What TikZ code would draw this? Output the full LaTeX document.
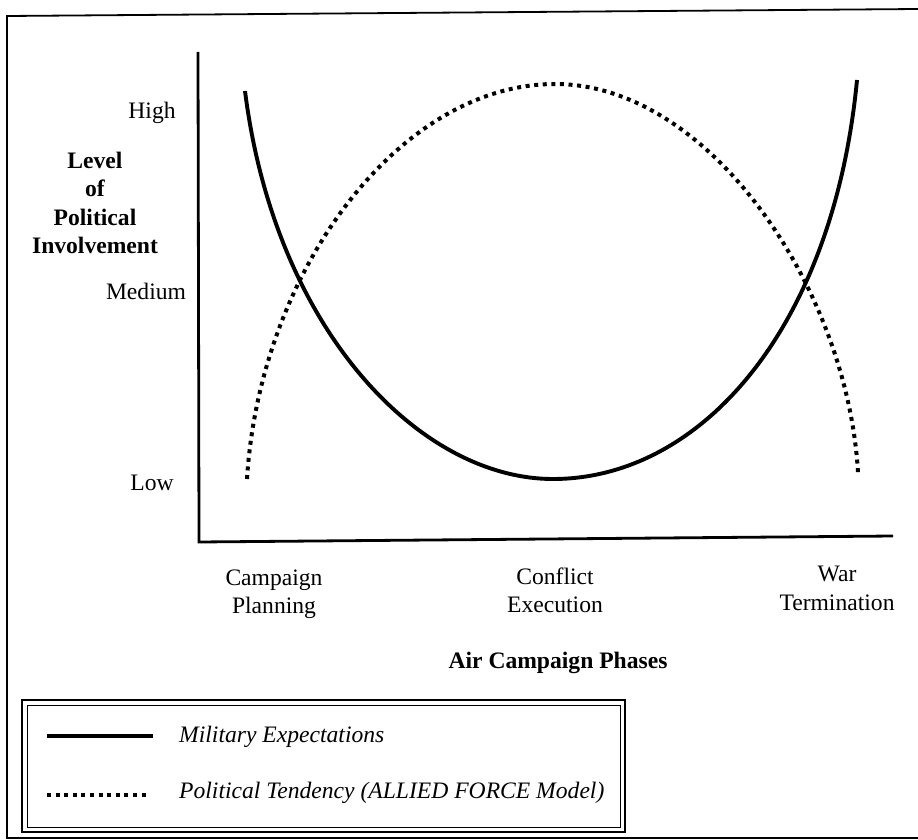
\documentclass[tikz,border=0pt]{standalone}
\usepackage{fontspec}
\setmainfont{Liberation Serif}
\begin{document}
\begin{tikzpicture}[x=1pt,y=-1pt,
  lbl/.style={font=\fontsize{23.6}{28.5}\selectfont, inner sep=0pt, anchor=base},
  blbl/.style={lbl, font=\fontsize{23.6}{28.5}\selectfont\bfseries},
  ilbl/.style={lbl, anchor=base west, font=\fontsize{23.6}{28.5}\selectfont\itshape},
  framestyle/.style={line width=1.8pt},
  axisstyle/.style={line width=2.8pt},
  solidcurve/.style={line width=3.9pt},
  dotcurve/.style={line width=4pt, dash pattern=on 4pt off 4.6pt}]
\useasboundingbox (0,0) rectangle (918,840);
% outer frame
\coordinate (ftr) at (918,9);
\coordinate (ftl) at (7,16);
\coordinate (fbl) at (7,838);
\coordinate (fbr) at (918,838);
\draw[framestyle] (ftr) -- (ftl) -- (fbl) -- (fbr);
% axes
\coordinate (ytop) at (198,52);
\coordinate (origin) at (199,542);
\coordinate (xend) at (893,536);
\draw[axisstyle] (ytop) -- (origin) -- (xend);
% curves
\draw[solidcurve] (245,91) .. controls (275,330) and (420,479) .. (553,479)
  .. controls (700,479) and (833,330) .. (857,80);
\draw[dotcurve] (247,479) .. controls (260,270) and (400,84) .. (555,84)
  .. controls (710,84) and (848,290) .. (858,473);
% y labels
\node[lbl] (high) at (152,119) {High};
\node[lbl] (medium) at (146,299) {Medium};
\node[lbl] (low) at (152,490) {Low};
\node[blbl] (ya1) at (95,168) {Level};
\node[blbl] (ya2) at (95,196) {of};
\node[blbl] (ya3) at (95,225) {Political};
\node[blbl] (ya4) at (95,253) {Involvement};
% x labels
\node[lbl] (cp1) at (274,585) {Campaign};
\node[lbl] (cp2) at (274,613) {Planning};
\node[lbl] (ce1) at (555,584) {Conflict};
\node[lbl] (ce2) at (555,612) {Execution};
\node[lbl] (wt1) at (837,581) {War};
\node[lbl] (wt2) at (837,610) {Termination};
\node[blbl] (xtitle) at (558,668) {Air Campaign Phases};
% legend
\coordinate (lgo1) at (22,700);
\coordinate (lgo2) at (625,832);
\coordinate (lgi1) at (27,705);
\coordinate (lgi2) at (620,827);
\draw[line width=1.5pt] (lgo1) rectangle (lgo2);
\draw[line width=1pt] (lgi1) rectangle (lgi2);
\coordinate (ls1) at (47,736);
\coordinate (ls2) at (153,736);
\draw[solidcurve] (ls1) -- (ls2);
\coordinate (ld1) at (47,795);
\coordinate (ld2) at (150,795);
\draw[dotcurve] (ld1) -- (ld2);
\node[ilbl] (legmil) at (179,742) {Military Expectations};
\node[ilbl] (legpol) at (179,798) {Political Tendency (ALLIED FORCE Model)};
\end{tikzpicture}
\end{document}
